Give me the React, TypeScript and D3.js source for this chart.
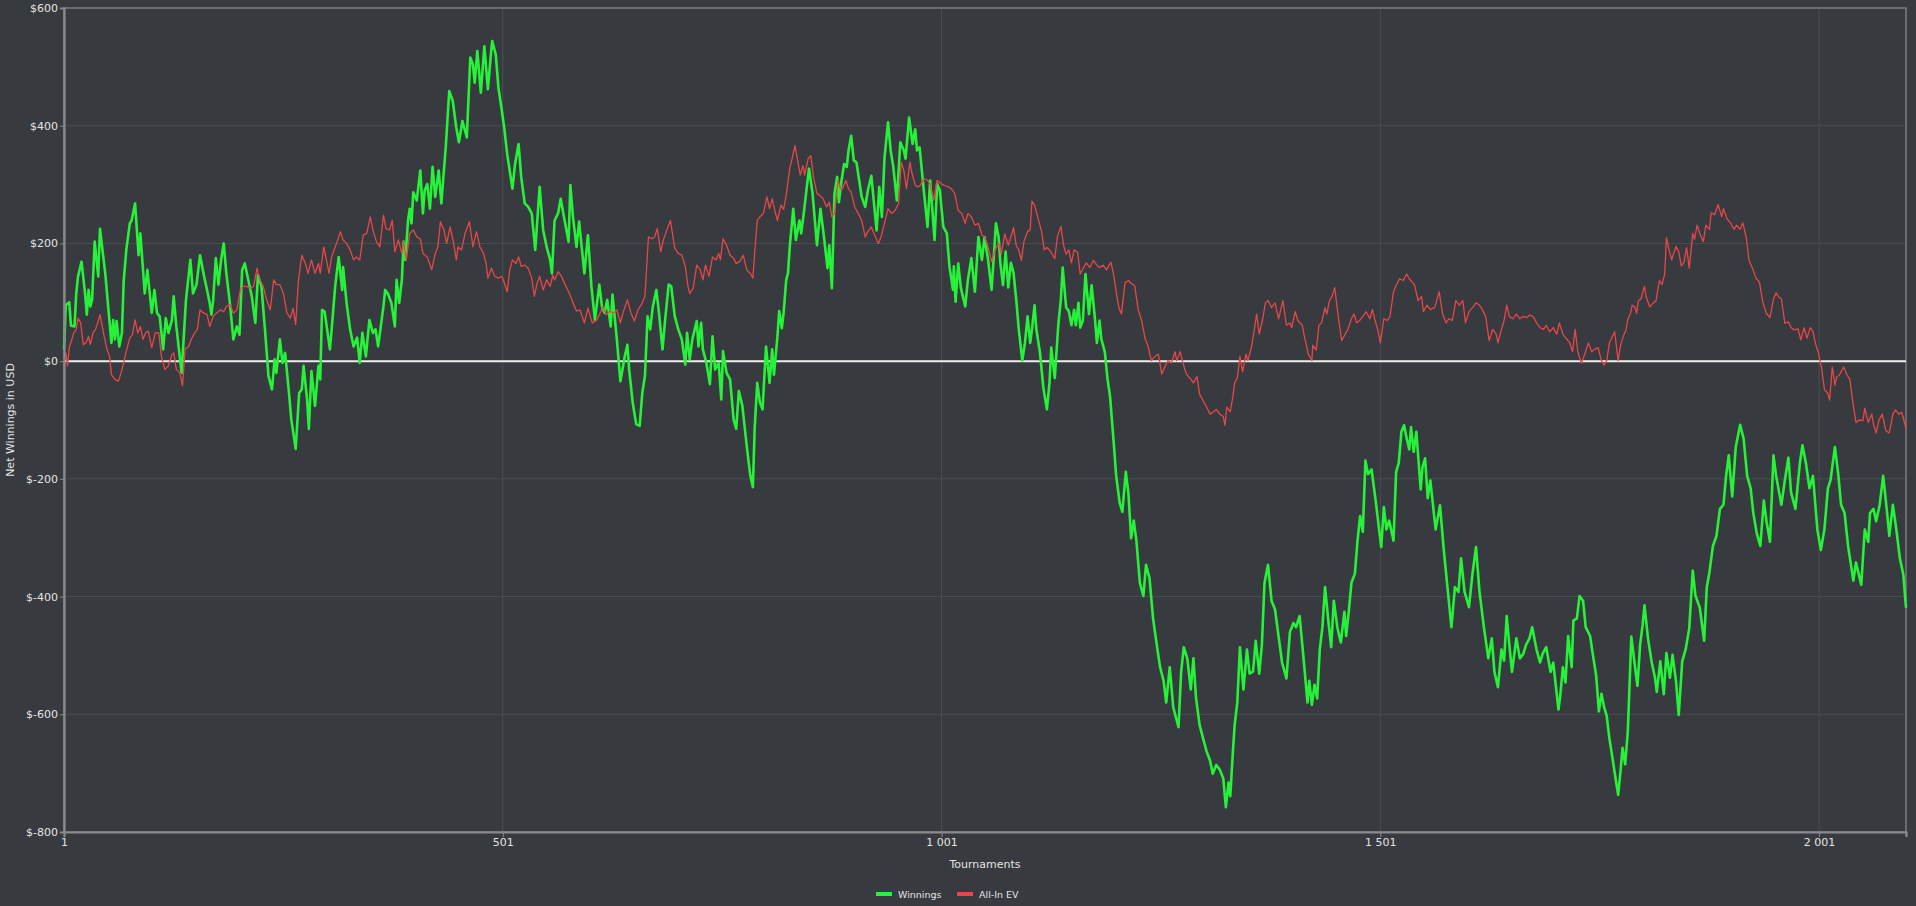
import { useEffect, useRef } from 'react';
import * as d3 from 'd3';

// tournament number, net winnings (USD)
const winnings: [number, number][] = [
  [1, 20], [3, 95], [7, 100], [9, 60], [13, 59], [15, 115], [17, 144], [21, 169], [25, 115], [27, 79], [29, 121], [31, 93], [33, 104], [36, 203], [40, 144], [42, 225], [48, 149], [55, 31], [57, 70], [59, 37], [61, 68], [64, 25], [67, 48], [69, 135], [72, 189], [76, 234], [78, 239], [82, 268], [86, 180], [88, 217], [93, 115], [96, 155], [101, 82], [104, 121], [107, 82], [110, 76], [114, 20], [117, 73], [120, 48], [124, 70], [126, 110], [129, 59], [135, -20], [140, 104], [145, 172], [148, 115], [152, 130], [156, 180], [160, 149], [164, 121], [167, 99], [169, 79], [171, 104], [174, 175], [177, 130], [180, 172], [183, 200], [186, 149], [190, 99], [194, 37], [198, 59], [201, 45], [204, 155], [207, 166], [211, 138], [215, 110], [219, 65], [222, 146], [226, 127], [230, 54], [234, -25], [238, -48], [241, 3], [243, -20], [247, 37], [250, -3], [253, 14], [257, -48], [260, -99], [265, -149], [269, -54], [272, -48], [274, -8], [278, -65], [280, -115], [283, -17], [287, -76], [291, -8], [293, -31], [295, 87], [298, 84], [304, 20], [306, 54], [310, 127], [314, 177], [318, 121], [319, 160], [323, 99], [327, 54], [331, 25], [335, 40], [338, -3], [341, 48], [345, 8], [349, 70], [353, 48], [356, 54], [359, 25],
  [365, 93], [367, 121], [370, 115], [374, 99], [378, 59], [380, 138], [383, 99], [386, 138], [388, 203], [390, 172], [393, 239], [395, 259], [397, 234], [399, 287], [403, 273], [407, 324], [410, 251], [412, 290], [415, 301], [418, 259], [421, 330], [424, 279], [428, 324], [431, 268], [433, 307], [436, 363], [440, 459], [444, 442], [448, 397], [451, 372], [455, 408], [460, 380], [464, 516], [467, 504], [469, 473], [472, 527], [476, 456], [480, 535], [484, 462], [488, 530], [489, 544], [493, 521], [496, 465], [500, 425], [503, 392], [506, 352], [512, 293], [515, 335], [519, 369], [522, 313], [526, 268], [530, 262], [534, 251], [538, 189], [543, 296], [547, 223], [551, 194], [555, 172], [557, 149], [560, 239], [564, 251], [567, 276], [570, 251], [576, 203], [578, 299], [581, 245], [585, 194], [588, 237], [594, 149], [598, 214], [602, 127], [606, 70], [611, 130], [614, 93], [617, 82], [620, 104], [624, 59], [626, 113], [631, 37], [635, -34], [640, 8], [643, 28], [645, -14], [649, -70], [653, -107], [657, -110], [660, -54], [663, -25], [666, 76], [669, 54], [672, 93], [676, 121], [679, 82], [683, 20], [686, 70], [690, 130], [693, 127], [697, 76], [701, 54], [705, 37], [709, -6],
  [711, 48], [714, 3], [717, 37], [722, 68], [724, 25], [727, 65], [729, 20], [733, -3], [737, -39], [740, 42], [743, -14], [747, -3], [750, -65], [752, 17], [756, -20], [760, -31], [764, -99], [767, -115], [770, -51], [774, -76], [779, -144], [783, -194], [786, -214], [788, -115], [791, -37], [794, -70], [797, -82], [801, 25], [805, -37], [808, 20], [810, -23], [814, 42], [816, 85], [819, 56], [821, 82], [824, 138], [826, 149], [828, 194], [832, 259], [835, 206], [839, 239], [841, 217], [844, 251], [847, 290], [850, 327], [854, 285], [859, 197], [863, 259], [867, 211], [871, 158], [873, 197], [876, 124], [879, 285], [882, 313], [884, 270], [887, 307], [890, 335], [893, 330], [895, 358], [898, 383], [901, 341], [904, 338], [910, 279], [914, 262], [917, 290], [921, 315], [924, 268], [927, 222], [930, 296], [933, 245], [936, 346], [940, 406], [943, 358], [946, 330], [950, 273], [954, 372], [958, 358], [960, 344], [964, 414], [968, 369], [971, 394], [973, 358], [976, 363], [980, 301], [985, 228], [988, 307], [993, 206], [996, 301], [999, 290], [1003, 228], [1007, 217], [1010, 161], [1014, 121], [1015, 161], [1017, 101], [1020, 166], [1023, 124], [1028, 93], [1031, 138], [1035, 175], [1039, 118], [1043, 211], [1047, 172], [1050, 211], [1054, 172], [1058, 121], [1063, 234], [1066, 211],
  [1068, 167], [1071, 129], [1074, 186], [1077, 125], [1080, 167], [1083, 150], [1086, 106], [1089, 54], [1093, 1], [1096, 31], [1099, 76], [1102, 31], [1104, 54], [1107, 95], [1109, 54], [1113, 16], [1117, -45], [1121, -82], [1124, -37], [1126, 23], [1130, -29], [1134, 61], [1137, 106], [1139, 159], [1143, 91], [1146, 85], [1149, 61], [1152, 87], [1154, 61], [1157, 99], [1159, 57], [1162, 69], [1165, 148], [1169, 80], [1172, 129], [1176, 69], [1178, 31], [1181, 69], [1183, 38], [1187, 16], [1190, -29], [1193, -60], [1197, -135], [1200, -195], [1204, -241], [1207, -256], [1211, -188], [1214, -226], [1217, -301], [1220, -271], [1223, -305], [1227, -377], [1231, -399], [1234, -346], [1238, -369], [1242, -437], [1247, -490], [1250, -520], [1254, -543], [1257, -580], [1261, -520], [1265, -588], [1271, -622], [1274, -528], [1277, -486], [1281, -505], [1285, -558], [1288, -505], [1291, -573], [1295, -618], [1299, -641], [1303, -663], [1307, -679], [1310, -701], [1314, -686], [1318, -694], [1322, -709], [1325, -758], [1328, -716], [1330, -739], [1333, -663], [1335, -618], [1338, -580], [1341, -486], [1345, -558], [1349, -490], [1352, -531], [1356, -527], [1359, -475], [1363, -531], [1366, -482], [1369, -377], [1373, -346], [1377, -407], [1381, -422], [1385, -467], [1389, -512], [1394, -539], [1398, -460], [1402, -445], [1405, -452], [1409, -433],
  [1413, -497], [1418, -580], [1420, -543], [1423, -584], [1426, -550], [1429, -573], [1432, -490], [1435, -452], [1438, -384], [1442, -445], [1445, -486], [1448, -407], [1452, -452], [1456, -478], [1460, -426], [1462, -467], [1465, -426], [1468, -377], [1472, -361], [1475, -305], [1478, -263], [1481, -290], [1484, -169], [1487, -192], [1491, -184], [1496, -241], [1502, -316], [1505, -248], [1508, -286], [1511, -271], [1516, -305], [1519, -188], [1522, -173], [1525, -120], [1528, -109], [1531, -131], [1534, -150], [1536, -112], [1539, -154], [1542, -120], [1547, -218], [1549, -180], [1552, -165], [1555, -233], [1558, -203], [1564, -286], [1569, -245], [1573, -316], [1578, -392], [1582, -452], [1586, -384], [1590, -392], [1593, -335], [1597, -392], [1602, -418], [1606, -361], [1610, -316], [1614, -392], [1619, -452], [1624, -505], [1628, -471], [1631, -528], [1635, -554], [1639, -490], [1642, -509], [1645, -433], [1648, -482], [1651, -528], [1656, -471], [1660, -505], [1664, -497], [1667, -482], [1671, -471], [1674, -452], [1679, -490], [1683, -512], [1686, -497], [1690, -486], [1695, -528], [1698, -512], [1704, -592], [1706, -569], [1709, -520], [1712, -546], [1715, -467], [1719, -520], [1721, -441], [1725, -437], [1728, -399], [1732, -407], [1735, -452], [1740, -467], [1743, -497], [1747, -535], [1750, -595], [1753, -565], [1756, -588], [1759, -603], [1762, -641], [1766, -679],
  [1768, -699], [1772, -737], [1775, -692], [1777, -657], [1780, -685], [1783, -629], [1787, -468], [1791, -517], [1794, -552], [1797, -482], [1800, -447], [1802, -415], [1806, -471], [1810, -510], [1814, -538], [1816, -562], [1820, -510], [1824, -566], [1827, -496], [1831, -538], [1834, -499], [1838, -545], [1841, -601], [1845, -510], [1849, -489], [1853, -454], [1857, -356], [1860, -398], [1865, -419], [1870, -475], [1873, -384], [1876, -359], [1880, -314], [1884, -297], [1888, -251], [1892, -244], [1895, -195], [1898, -160], [1902, -230], [1906, -146], [1911, -108], [1915, -132], [1919, -195], [1923, -216], [1926, -258], [1930, -293], [1934, -314], [1938, -237], [1941, -272], [1945, -307], [1949, -160], [1952, -195], [1958, -244], [1962, -202], [1966, -164], [1969, -223], [1974, -251], [1979, -174], [1982, -143], [1986, -174], [1990, -216], [1994, -195], [1999, -286], [2003, -321], [2007, -286], [2011, -216], [2014, -202], [2019, -146], [2023, -195], [2026, -244], [2030, -258], [2034, -314], [2040, -373], [2043, -342], [2049, -380], [2053, -286], [2057, -307], [2059, -258], [2063, -251], [2066, -272], [2070, -244], [2074, -195], [2078, -251], [2081, -297], [2085, -244], [2089, -286], [2093, -335], [2097, -363], [2100, -419],
];

// tournament number, all-in adjusted expectation (USD)
const allInEv: [number, number][] = [
  [1, 5], [3, 14], [5, -8], [7, 23], [10, 37], [12, 48], [15, 54], [17, 73], [20, 65], [23, 28], [26, 31], [29, 42], [31, 28], [34, 48], [37, 54], [40, 68], [42, 79], [46, 48], [50, 20], [53, 8], [55, -23], [59, -31], [63, -34], [66, -20], [69, -3], [72, 17], [76, 39], [79, 45], [82, 70], [85, 48], [88, 59], [91, 37], [94, 48], [97, 51], [101, 23], [105, 48], [109, 48], [112, 8], [116, -14], [120, -8], [124, 11], [126, 14], [129, -14], [133, -20], [136, -42], [139, 20], [143, 25], [146, 37], [150, 48], [153, 54], [156, 87], [160, 82], [164, 79], [167, 59], [171, 76], [175, 82], [179, 87], [183, 84], [186, 93], [190, 96], [194, 82], [198, 87], [202, 121], [205, 127], [209, 127], [213, 124], [217, 127], [221, 158], [224, 138], [228, 127], [232, 104], [236, 87], [240, 138], [243, 130], [247, 130], [251, 115], [255, 82], [259, 73], [262, 90], [265, 62], [268, 135], [272, 180], [276, 166], [279, 149], [283, 172], [287, 149], [291, 166], [293, 149], [297, 194], [300, 172], [303, 149], [306, 177], [310, 194], [313, 206], [316, 220], [319, 206], [323, 200], [327, 189], [331, 172], [334, 177], [338, 172], [342, 214], [346, 217], [350, 245], [353, 223], [357, 203],
  [361, 194], [365, 248], [368, 225], [372, 223], [375, 239], [378, 186], [382, 206], [386, 183], [388, 203], [391, 172], [395, 217], [399, 223], [403, 211], [407, 208], [410, 183], [415, 177], [420, 155], [424, 183], [427, 194], [430, 237], [434, 223], [437, 200], [441, 228], [445, 200], [448, 172], [450, 194], [454, 189], [458, 217], [463, 237], [467, 194], [471, 220], [475, 194], [479, 183], [482, 166], [484, 141], [488, 158], [492, 144], [496, 141], [500, 144], [503, 132], [506, 118], [509, 155], [512, 172], [516, 166], [519, 177], [522, 161], [526, 163], [530, 158], [534, 141], [537, 110], [540, 132], [543, 144], [547, 121], [551, 138], [555, 127], [558, 146], [560, 138], [564, 152], [568, 144], [572, 130], [577, 115], [581, 99], [585, 85], [589, 87], [594, 65], [598, 90], [603, 65], [608, 70], [612, 82], [615, 93], [619, 79], [623, 85], [627, 82], [631, 87], [635, 65], [638, 82], [643, 104], [647, 82], [651, 68], [655, 87], [659, 96], [663, 110], [667, 211], [671, 208], [674, 211], [677, 225], [681, 186], [684, 206], [688, 223], [692, 239], [697, 192], [701, 183], [705, 180], [709, 161], [712, 127],
  [714, 115], [718, 124], [722, 163], [726, 155], [729, 138], [732, 163], [736, 144], [740, 177], [744, 172], [747, 183], [749, 172], [752, 208], [756, 197], [760, 180], [764, 175], [767, 166], [771, 169], [775, 180], [779, 155], [783, 149], [786, 141], [788, 183], [791, 239], [794, 245], [798, 251], [802, 279], [805, 259], [808, 276], [811, 256], [814, 239], [818, 265], [821, 258], [824, 282], [828, 327], [831, 346], [834, 366], [837, 341], [840, 316], [843, 332], [845, 316], [849, 344], [852, 349], [855, 313], [859, 285], [862, 282], [866, 276], [870, 262], [873, 270], [876, 245], [879, 251], [883, 307], [887, 290], [892, 307], [895, 293], [898, 287], [902, 262], [906, 251], [910, 239], [914, 211], [917, 220], [921, 228], [924, 217], [929, 200], [932, 211], [936, 234], [940, 259], [944, 251], [948, 256], [952, 268], [955, 338], [958, 324], [961, 293], [965, 338], [967, 321], [971, 299], [974, 296], [977, 299], [981, 310], [985, 307], [988, 301], [992, 273], [996, 307], [1001, 301], [1005, 298], [1009, 296], [1012, 293], [1016, 285], [1020, 256], [1024, 251], [1028, 234], [1031, 251], [1035, 245], [1039, 231], [1043, 234], [1047, 214], [1050, 211], [1054, 194], [1058, 169], [1062, 189], [1066, 200],
  [1069, 182], [1073, 216], [1077, 197], [1081, 216], [1083, 227], [1086, 197], [1089, 189], [1092, 171], [1095, 204], [1099, 220], [1102, 223], [1104, 272], [1107, 265], [1111, 242], [1115, 220], [1118, 189], [1121, 193], [1124, 189], [1127, 182], [1130, 174], [1133, 212], [1137, 229], [1140, 197], [1143, 182], [1146, 189], [1149, 167], [1152, 189], [1156, 185], [1159, 148], [1163, 159], [1166, 167], [1170, 159], [1174, 171], [1178, 163], [1181, 159], [1185, 163], [1189, 155], [1194, 168], [1197, 148], [1200, 118], [1203, 91], [1206, 80], [1210, 133], [1214, 137], [1217, 132], [1221, 129], [1225, 88], [1229, 69], [1233, 38], [1236, 27], [1240, 1], [1244, 8], [1248, 12], [1252, -22], [1255, -11], [1259, 1], [1263, -3], [1267, 16], [1269, 1], [1273, 16], [1276, -3], [1280, -22], [1284, -29], [1288, -37], [1292, -26], [1295, -56], [1299, -67], [1303, -78], [1307, -90], [1311, -86], [1314, -82], [1318, -90], [1322, -94], [1324, -109], [1326, -78], [1330, -86], [1333, -60], [1335, -37], [1338, -29], [1341, 8], [1344, -18], [1348, 12], [1350, 1], [1354, 23], [1357, 50], [1360, 80], [1363, 46], [1367, 72], [1370, 99], [1373, 103], [1377, 91], [1381, 99], [1385, 72], [1387, 84], [1390, 103], [1394, 61], [1398, 65], [1400, 57], [1404, 84], [1407, 69],
  [1412, 61], [1415, 38], [1419, 12], [1423, 1], [1424, 27], [1428, 19], [1431, 61], [1434, 65], [1438, 91], [1440, 80], [1443, 103], [1446, 110], [1449, 125], [1453, 76], [1457, 35], [1461, 46], [1464, 54], [1468, 72], [1471, 80], [1474, 65], [1478, 70], [1481, 76], [1485, 84], [1489, 72], [1492, 88], [1495, 69], [1498, 54], [1501, 31], [1505, 72], [1509, 69], [1512, 76], [1516, 118], [1519, 129], [1523, 140], [1527, 137], [1531, 148], [1534, 140], [1538, 133], [1540, 129], [1544, 103], [1548, 110], [1550, 84], [1554, 95], [1558, 88], [1563, 91], [1568, 118], [1572, 80], [1576, 65], [1579, 72], [1583, 69], [1587, 103], [1591, 95], [1595, 103], [1598, 65], [1602, 84], [1606, 91], [1610, 99], [1614, 95], [1617, 88], [1621, 76], [1625, 35], [1629, 54], [1633, 46], [1635, 31], [1639, 54], [1642, 69], [1645, 95], [1648, 76], [1652, 72], [1656, 80], [1660, 72], [1664, 76], [1668, 74], [1671, 78], [1675, 76], [1679, 65], [1683, 57], [1687, 54], [1690, 61], [1694, 50], [1698, 57], [1702, 46], [1705, 65], [1709, 46], [1713, 38], [1717, 31], [1720, 16], [1723, 54], [1726, 16], [1730, -3], [1734, 12], [1738, 31], [1742, 16], [1745, 20], [1749, 23], [1753, 1], [1756, -7], [1759, 1], [1762, 31], [1768, 50], [1772, 1],
  [1775, 29], [1778, 43], [1781, 53], [1783, 71], [1786, 81], [1788, 95], [1791, 92], [1793, 81], [1795, 102], [1798, 106], [1802, 127], [1804, 109], [1808, 92], [1812, 99], [1815, 102], [1819, 137], [1822, 130], [1825, 148], [1827, 210], [1830, 189], [1833, 172], [1835, 182], [1838, 195], [1841, 186], [1844, 162], [1847, 168], [1850, 193], [1853, 158], [1857, 217], [1859, 207], [1862, 231], [1865, 217], [1869, 203], [1872, 231], [1876, 224], [1878, 252], [1882, 249], [1886, 266], [1890, 245], [1892, 259], [1896, 242], [1900, 235], [1904, 224], [1907, 231], [1911, 224], [1914, 235], [1918, 210], [1921, 172], [1925, 158], [1929, 141], [1933, 134], [1937, 99], [1941, 81], [1945, 74], [1949, 106], [1952, 116], [1955, 109], [1958, 106], [1962, 64], [1966, 67], [1969, 57], [1973, 53], [1977, 55], [1980, 36], [1984, 57], [1987, 39], [1991, 57], [1994, 50], [1997, 29], [2000, 15], [2004, -13], [2007, -48], [2011, -55], [2013, -66], [2016, -10], [2019, -41], [2021, -27], [2024, -24], [2029, -10], [2033, -24], [2036, -31], [2040, -76], [2043, -104], [2047, -100], [2051, -101], [2053, -80], [2057, -104], [2061, -90], [2063, -108], [2066, -122], [2069, -101], [2073, -90], [2077, -118], [2081, -122], [2085, -90], [2088, -83], [2092, -90], [2095, -87], [2097, -97], [2100, -115],
];

const xTicks = [1, 501, 1001, 1501, 2001];
const yTicks = [600, 400, 200, 0, -200, -400, -600, -800];
const xDomain: [number, number] = [1, 2100];
const yDomain: [number, number] = [-800, 600];

const series = [
  { name: 'Winnings', data: winnings, color: '#27f23a', width: 2.6 },
  { name: 'All-In EV', data: allInEv, color: '#e5484b', width: 1.3 },
];

const W = 1916;
const H = 906;
const margin = { top: 8, right: 10, bottom: 74, left: 64 };
const FONT = '"DejaVu Sans", Verdana, sans-serif';
const TEXT = '#e4e4e4';

export default function App() {
  const svgRef = useRef<SVGSVGElement | null>(null);

  useEffect(() => {
    document.body.style.margin = '0';
    document.body.style.background = '#373a3e';

    const svg = d3.select(svgRef.current);
    svg.selectAll('*').remove();

    const x = d3
      .scaleLinear()
      .domain(xDomain)
      .range([margin.left, W - margin.right]);
    const y = d3
      .scaleLinear()
      .domain(yDomain)
      .range([H - margin.bottom, margin.top]);

    const [x0, x1] = x.range();
    const [y0, y1] = y.range(); // y0 bottom, y1 top

    svg.append('rect').attr('width', W).attr('height', H).attr('fill', '#373a3e');

    // grid
    const grid = svg.append('g');
    grid
      .selectAll('line.h')
      .data(yTicks.filter((d) => d !== yDomain[0] && d !== yDomain[1]))
      .join('line')
      .attr('x1', x0)
      .attr('x2', x1)
      .attr('y1', (d) => y(d))
      .attr('y2', (d) => y(d))
      .attr('stroke', '#4b4e52')
      .attr('stroke-width', 1);
    grid
      .selectAll('line.v')
      .data(xTicks.filter((d) => d !== xDomain[0]))
      .join('line')
      .attr('x1', (d) => x(d))
      .attr('x2', (d) => x(d))
      .attr('y1', y1)
      .attr('y2', y0)
      .attr('stroke', '#4b4e52')
      .attr('stroke-width', 1);

    // plot frame (top/right)
    svg
      .append('rect')
      .attr('x', x0)
      .attr('y', y1)
      .attr('width', x1 - x0)
      .attr('height', y0 - y1)
      .attr('fill', 'none')
      .attr('stroke', '#7c7e80')
      .attr('stroke-width', 1.5);

    // zero line
    svg
      .append('line')
      .attr('x1', x0)
      .attr('x2', x1)
      .attr('y1', y(0))
      .attr('y2', y(0))
      .attr('stroke', '#ececec')
      .attr('stroke-width', 2);

    // series
    const line = d3
      .line<[number, number]>()
      .x((d) => x(d[0]))
      .y((d) => y(d[1]));
    series.forEach((s) => {
      svg
        .append('path')
        .datum(s.data)
        .attr('fill', 'none')
        .attr('stroke', s.color)
        .attr('stroke-width', s.width)
        .attr('stroke-linejoin', 'round')
        .attr('d', line);
    });

    // axes
    const fmt = d3.formatLocale({
      decimal: '.',
      thousands: ' ',
      grouping: [3],
      currency: ['$', ''],
    }).format(',d');

    const yAxis = svg
      .append('g')
      .attr('transform', `translate(${x0},0)`)
      .call(
        d3
          .axisLeft(y)
          .tickValues(yTicks)
          .tickSize(4)
          .tickPadding(2)
          .tickFormat((d) => `$${d}`)
      );
    const xAxis = svg
      .append('g')
      .attr('transform', `translate(0,${y0})`)
      .call(
        d3
          .axisBottom(x)
          .tickValues(xTicks)
          .tickSize(5)
          .tickPadding(1)
          .tickFormat((d) => fmt(d as number))
      );

    [yAxis, xAxis].forEach((a) => {
      a.select('.domain').attr('stroke', '#8a8b8d').attr('stroke-width', 2.2);
      a.selectAll('.tick line').attr('stroke', '#8a8b8d');
      a.selectAll('.tick text')
        .attr('fill', TEXT)
        .style('font-family', FONT)
        .style('font-size', '11px');
    });

    // axis titles
    svg
      .append('text')
      .attr('x', (x0 + x1) / 2)
      .attr('y', 868)
      .attr('text-anchor', 'middle')
      .attr('fill', TEXT)
      .style('font-family', FONT)
      .style('font-size', '11px')
      .text('Tournaments');

    svg
      .append('text')
      .attr('transform', `translate(14,${(y0 + y1) / 2}) rotate(-90)`)
      .attr('text-anchor', 'middle')
      .attr('fill', TEXT)
      .style('font-family', FONT)
      .style('font-size', '11px')
      .text('Net Winnings in USD');

    // legend
    const legend = svg.append('g').attr('transform', 'translate(876,894)');
    const offsets = [0, 81];
    const items = legend
      .selectAll('g')
      .data(series)
      .join('g')
      .attr('transform', (_, i) => `translate(${offsets[i]},0)`);
    items
      .append('rect')
      .attr('x', 0)
      .attr('y', -2)
      .attr('width', 16)
      .attr('height', 4)
      .attr('fill', (d) => d.color);
    items
      .append('text')
      .attr('x', 22)
      .attr('y', 3.5)
      .attr('fill', TEXT)
      .style('font-family', FONT)
      .style('font-size', '9.5px')
      .text((d) => d.name);
  }, []);

  return <svg ref={svgRef} width={W} height={H} style={{ display: 'block' }} />;
}
